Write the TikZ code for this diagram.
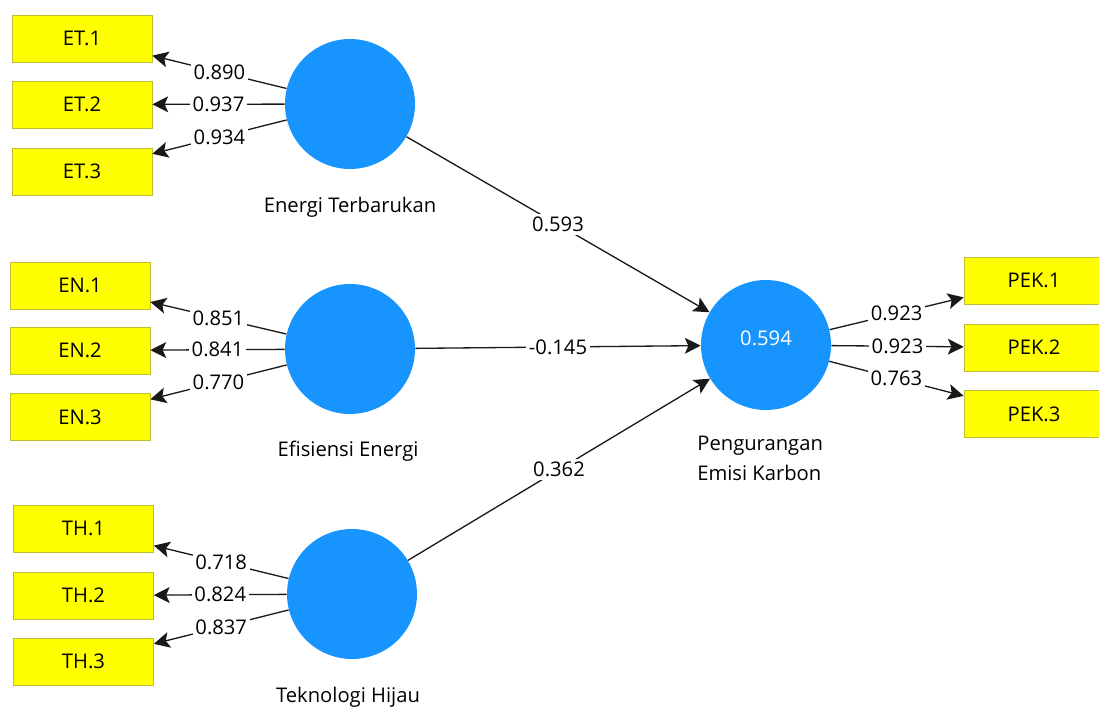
\documentclass[tikz,border=0pt]{standalone}
\usepackage{fontspec}
\setmainfont{Open Sans}
\usetikzlibrary{positioning,arrows.meta}
\definecolor{lvblue}{RGB}{24,148,255}
\definecolor{mvyellow}{RGB}{255,255,0}
\definecolor{mvborder}{RGB}{190,190,50}
\tikzset{
  lv/.style={circle,fill=lvblue,minimum size=2.6cm,inner sep=0pt,text=white},
  mv/.style={rectangle,draw=mvborder,fill=mvyellow,minimum width=2.8cm,minimum height=0.94cm,inner sep=0pt},
  lvname/.style={inner sep=0pt,align=left},
  conn/.style={draw=black!90,line width=0.75pt,-{Stealth[length=9pt,width=9pt,inset=2pt]}},
  val/.style={fill=white,inner sep=1.5pt}
}
\begin{document}
\begin{tikzpicture}[x=0.02cm,y=-0.02cm,font=\fontsize{11.5}{17}\selectfont]
    \useasboundingbox(0,0)rectangle(1099,709);
    %variabel laten
    \node[lv](ET) at (350,104) {};
    \node[lv](EN) at (350,349) {};
    \node[lv](TH) at (352,594) {};
    \node[lv,label={[text=white,yshift=4pt]center:0.594}](PEK) at (766,345) {};
    %nama variabel
    \node[lvname](ETname) at (350,207) {Energi Terbarukan};
    \node[lvname](ENname) at (348,451) {Efisiensi Energi};
    \node[lvname](THname) at (348,697) {Teknologi Hijau};
    \node[lvname,anchor=north west](PEKname) at (697,436) {Pengurangan\\Emisi Karbon};
    %indikator
    \node[mv](et1) at (82,38.5) {ET.1};
    \node[mv](et2) at (82,104.5) {ET.2};
    \node[mv](et3) at (82,171.5) {ET.3};
    \node[mv](en1) at (80,285.5) {EN.1};
    \node[mv](en2) at (80,350.5) {EN.2};
    \node[mv](en3) at (80,417) {EN.3};
    \node[mv](th1) at (83.5,528.5) {TH.1};
    \node[mv](th2) at (83.5,595.5) {TH.2};
    \node[mv](th3) at (83.5,661.5) {TH.3};
    \node[mv](pek1) at (1034,280.5) {PEK.1};
    \node[mv](pek2) at (1034,347.5) {PEK.2};
    \node[mv](pek3) at (1034,414) {PEK.3};
    %outer loading
    \draw[conn](ET)--node[val]{0.890}(et1);
    \draw[conn](ET)--node[val]{0.937}(et2);
    \draw[conn](ET)--node[val]{0.934}(et3);
    \draw[conn](EN)--node[val]{0.851}(en1);
    \draw[conn](EN)--node[val]{0.841}(en2);
    \draw[conn](EN)--node[val]{0.770}(en3);
    \draw[conn](TH)--node[val]{0.718}(th1);
    \draw[conn](TH)--node[val]{0.824}(th2);
    \draw[conn](TH)--node[val]{0.837}(th3);
    \draw[conn](PEK)--node[val]{0.923}(pek1);
    \draw[conn](PEK)--node[val]{0.923}(pek2);
    \draw[conn](PEK)--node[val]{0.763}(pek3);
    %koefisien jalur
    \draw[conn](ET)--node[val]{0.593}(PEK);
    \draw[conn](EN)--node[val]{-0.145}(PEK);
    \draw[conn](TH)--node[val]{0.362}(PEK);
\end{tikzpicture}
\end{document}
